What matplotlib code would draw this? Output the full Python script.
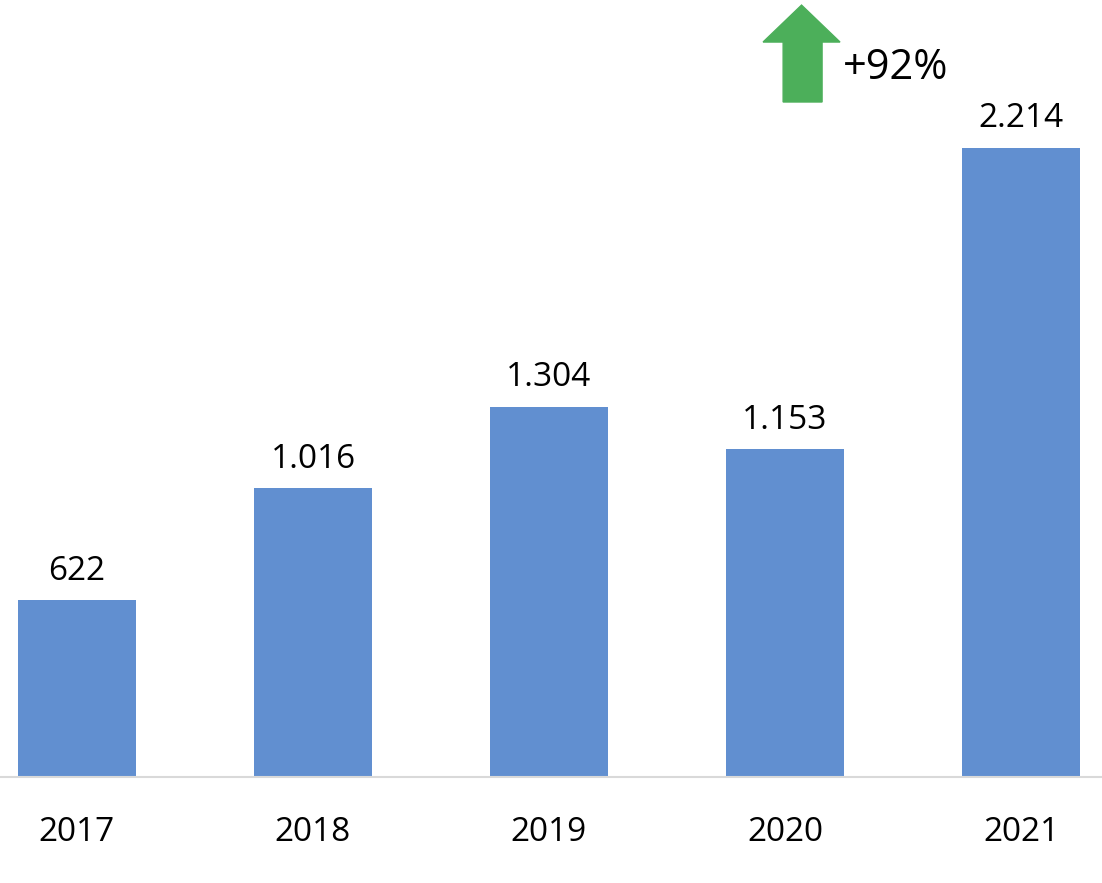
import matplotlib
matplotlib.use("Agg")
import matplotlib.pyplot as plt
from matplotlib.patches import Polygon

years = ["2017", "2018", "2019", "2020", "2021"]
values = [622, 1016, 1304, 1153, 2214]
labels = ["622", "1.016", "1.304", "1.153", "2.214"]
growth_label = "+92%"

plt.rcParams["font.family"] = "Open Sans"
fig = plt.figure(figsize=(11.02, 8.83), dpi=100)
ax = fig.add_axes([0, 0.12, 1, 0.88])
x = list(range(len(years)))
ax.bar(x, values, width=0.5, color="#618FD0")
for xi, v, l in zip(x, values, labels):
    ax.text(xi, v + 45, l, ha="center", va="bottom", fontsize=24, color="black")
ax.set_xlim(-0.326, 4.343)
ax.set_ylim(0, 2735)
for s in ["top", "right", "left"]:
    ax.spines[s].set_visible(False)
ax.spines["bottom"].set_color("#D9D9D9")
ax.spines["bottom"].set_linewidth(1.5)
ax.set_yticks([])
ax.set_xticks(x)
ax.set_xticklabels(years, fontsize=24)
ax.tick_params(axis="x", length=0, pad=28)

arrow = Polygon([(2.992, 2376), (3.157, 2376), (3.157, 2587), (3.233, 2587),
                 (3.07, 2717), (2.907, 2587), (2.992, 2587)],
                closed=True, color="#4CAF5A", clip_on=False)
ax.add_patch(arrow)
ax.text(3.246, 2496, growth_label, ha="left", va="center", fontsize=30, color="black")
fig.savefig("out.png", dpi=100)
